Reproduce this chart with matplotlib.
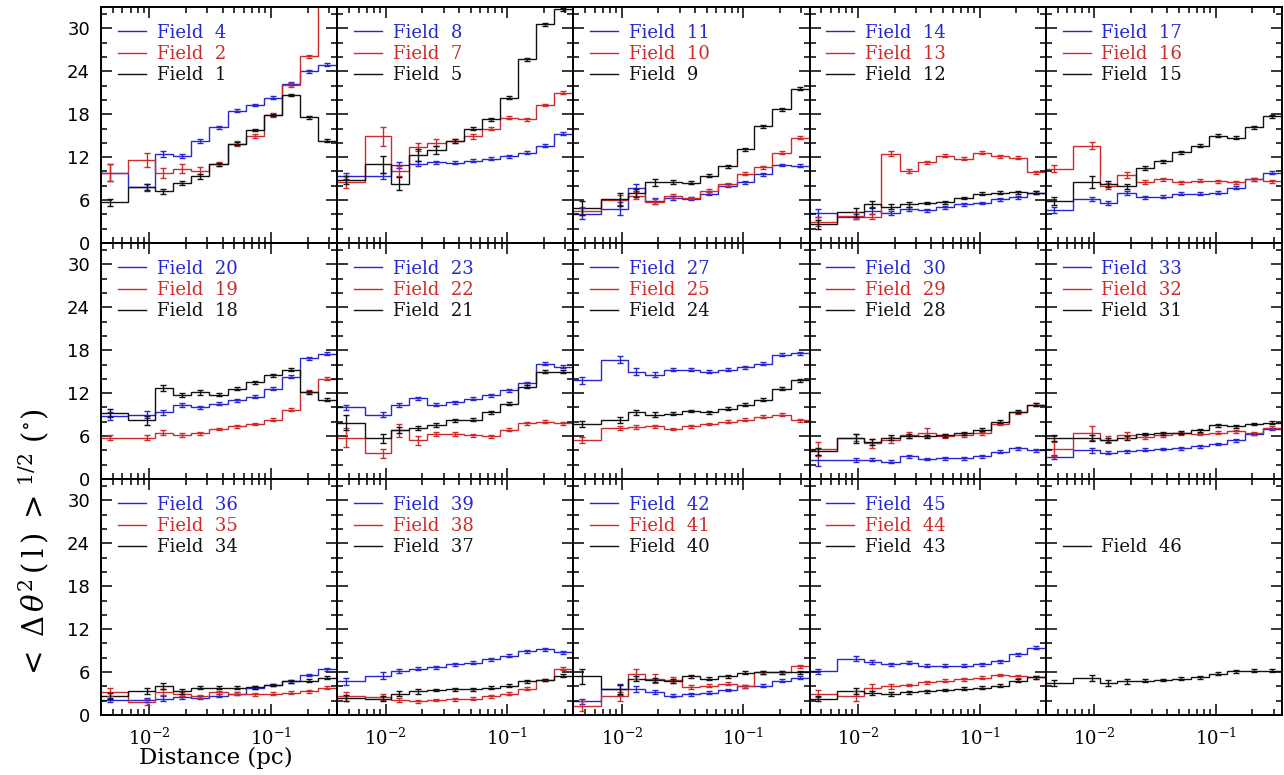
import matplotlib
matplotlib.use("Agg")
import matplotlib.pyplot as plt
from matplotlib.lines import Line2D
from matplotlib.ticker import LogLocator, MultipleLocator

plt.rcParams["font.family"] = ["DejaVu Serif"]
plt.rcParams["mathtext.fontset"] = "dejavuserif"

BLUE = "#2626d4"
RED = "#d02a2a"
BLACK = "#111111"

# bin centres (pc), common to every panel
dist = [0.0047, 0.0096, 0.0130, 0.0186, 0.0262, 0.037, 0.052, 0.074, 0.104, 0.146, 0.206, 0.29]

# field numbers per panel (blue, red, black)
blue_fields = [4, 8, 11, 14, 17, 20, 23, 27, 30, 33, 36, 39, 42, 45, None]
red_fields = [2, 7, 10, 13, 16, 19, 22, 25, 29, 32, 35, 38, 41, 44, None]
black_fields = [1, 5, 9, 12, 15, 18, 21, 24, 28, 31, 34, 37, 40, 43, 46]

blue_disp = [
    [9.8, 7.8, 12.4, 12.2, 14.3, 16.2, 18.5, 19.3, 20.3, 22.3, 24.0, 24.9],
    [9.4, 9.4, 10.9, 11.1, 11.3, 11.2, 11.5, 11.8, 12.1, 12.6, 13.6, 15.3],
    [4.1, 4.8, 7.7, 5.9, 6.3, 6.2, 6.9, 8.0, 8.5, 9.6, 10.9, 10.8],
    [4.2, 3.7, 4.5, 4.2, 4.8, 4.6, 5.0, 5.4, 5.6, 6.1, 6.4, 7.0],
    [4.6, 6.2, 5.6, 7.0, 6.4, 6.5, 6.9, 6.9, 7.0, 7.7, 8.9, 9.8],
    [8.8, 9.0, 9.3, 10.3, 10.0, 10.5, 11.0, 11.5, 12.6, 14.3, 16.9, 17.5],
    [10.0, 9.0, 10.3, 11.3, 10.4, 10.7, 11.2, 11.7, 12.4, 13.4, 16.1, 15.7],
    [13.8, 16.7, 15.0, 14.6, 15.3, 15.3, 15.0, 15.3, 15.6, 16.1, 17.4, 17.6],
    [2.6, 2.7, 2.7, 2.4, 3.2, 2.8, 2.9, 2.9, 3.2, 3.8, 4.3, 4.0],
    [3.1, 4.0, 3.7, 3.9, 4.1, 4.2, 4.3, 4.6, 4.9, 5.4, 6.3, 7.0],
    [2.1, 2.1, 2.3, 2.5, 2.4, 2.7, 3.0, 3.8, 4.2, 4.7, 5.6, 6.4],
    [4.7, 5.5, 6.2, 6.5, 6.7, 7.1, 7.3, 7.8, 8.3, 8.9, 9.2, 8.8],
    [1.9, 3.6, 3.6, 3.2, 2.7, 2.9, 3.1, 3.5, 4.0, 4.1, 4.8, 5.2],
    [6.1, 7.9, 7.4, 7.1, 7.3, 6.9, 6.9, 6.9, 7.1, 7.5, 8.5, 9.4],
    None,
]
blue_err = [
    [1.2, 0.5, 0.4, 0.3, 0.3, 0.2, 0.2, 0.2, 0.2, 0.2, 0.2, 0.2],
    [0.4, 0.4, 0.4, 0.3, 0.2, 0.2, 0.2, 0.2, 0.2, 0.2, 0.2, 0.2],
    [0.8, 0.9, 0.5, 0.4, 0.3, 0.2, 0.2, 0.2, 0.2, 0.2, 0.2, 0.2],
    [0.5, 0.4, 0.5, 0.3, 0.3, 0.2, 0.2, 0.2, 0.2, 0.2, 0.2, 0.2],
    [0.4, 0.3, 0.3, 0.3, 0.2, 0.2, 0.2, 0.2, 0.2, 0.2, 0.2, 0.2],
    [0.5, 0.5, 0.3, 0.3, 0.2, 0.2, 0.2, 0.2, 0.2, 0.2, 0.2, 0.2],
    [0.4, 0.3, 0.3, 0.2, 0.2, 0.2, 0.2, 0.2, 0.2, 0.2, 0.2, 0.2],
    [0.5, 0.5, 0.5, 0.3, 0.2, 0.2, 0.2, 0.2, 0.2, 0.2, 0.2, 0.2],
    [0.8, 0.3, 0.2, 0.2, 0.2, 0.2, 0.2, 0.2, 0.2, 0.2, 0.2, 0.2],
    [0.3, 0.3, 0.2, 0.2, 0.2, 0.2, 0.2, 0.2, 0.2, 0.2, 0.2, 0.2],
    [0.3, 0.3, 0.3, 0.2, 0.2, 0.2, 0.2, 0.2, 0.2, 0.2, 0.2, 0.2],
    [0.5, 0.5, 0.3, 0.2, 0.2, 0.2, 0.2, 0.2, 0.2, 0.2, 0.2, 0.2],
    [0.3, 0.8, 0.4, 0.3, 0.2, 0.2, 0.2, 0.2, 0.2, 0.2, 0.2, 0.2],
    [0.3, 0.4, 0.3, 0.2, 0.2, 0.2, 0.2, 0.2, 0.2, 0.2, 0.2, 0.2],
    None,
]

red_disp = [
    [9.8, 11.6, 9.8, 10.4, 10.1, 11.0, 13.9, 15.0, 17.9, 22.1, 26.1, 36.0],
    [8.5, 14.9, 10.1, 13.4, 14.0, 14.3, 14.9, 16.0, 17.5, 17.3, 19.3, 21.0],
    [4.5, 6.0, 6.6, 5.8, 6.6, 6.3, 7.3, 8.2, 9.7, 10.6, 12.6, 14.7],
    [3.0, 3.8, 3.7, 12.5, 10.1, 11.3, 12.2, 11.8, 12.6, 12.1, 11.9, 9.9],
    [10.4, 13.6, 8.0, 9.5, 8.5, 8.9, 8.5, 8.7, 8.6, 8.5, 8.9, 8.6],
    [5.8, 5.8, 6.5, 6.2, 6.4, 7.0, 7.4, 7.7, 8.3, 9.7, 12.2, 14.0],
    [5.8, 3.6, 6.8, 5.4, 6.3, 6.3, 6.1, 6.0, 6.9, 7.8, 8.0, 7.8],
    [5.5, 7.1, 7.3, 7.4, 7.0, 7.4, 7.7, 8.0, 8.3, 8.7, 9.0, 8.2],
    [4.2, 5.8, 5.0, 5.5, 6.2, 6.5, 6.0, 6.1, 6.4, 7.7, 9.3, 10.4],
    [4.2, 6.4, 5.5, 6.2, 5.9, 6.1, 6.4, 6.3, 6.5, 6.7, 6.4, 7.2],
    [3.2, 1.8, 3.2, 2.9, 2.6, 3.2, 3.0, 2.9, 3.0, 3.1, 3.3, 3.8],
    [2.6, 2.5, 2.1, 1.9, 2.1, 2.2, 2.3, 2.6, 3.0, 3.7, 4.9, 6.5],
    [1.2, 2.6, 5.8, 5.1, 4.9, 3.9, 4.1, 4.4, 4.0, 6.0, 6.0, 6.8],
    [3.0, 2.6, 3.8, 4.0, 4.2, 4.6, 4.8, 5.0, 5.2, 5.6, 5.4, 5.3],
    None,
]
red_err = [
    [1.2, 1.0, 0.7, 0.6, 0.5, 0.3, 0.3, 0.3, 0.3, 0.3, 0.2, 0.2],
    [0.8, 1.3, 0.7, 0.6, 0.5, 0.3, 0.3, 0.2, 0.2, 0.2, 0.2, 0.2],
    [0.6, 0.7, 0.5, 0.4, 0.3, 0.2, 0.2, 0.2, 0.2, 0.2, 0.2, 0.2],
    [0.6, 0.5, 0.4, 0.4, 0.3, 0.2, 0.2, 0.2, 0.2, 0.2, 0.2, 0.2],
    [0.5, 0.5, 0.4, 0.4, 0.3, 0.2, 0.2, 0.2, 0.2, 0.2, 0.2, 0.2],
    [0.4, 0.4, 0.3, 0.3, 0.2, 0.2, 0.2, 0.2, 0.2, 0.2, 0.2, 0.2],
    [1.3, 0.6, 0.9, 0.6, 0.3, 0.3, 0.2, 0.2, 0.2, 0.2, 0.2, 0.2],
    [0.4, 0.3, 0.3, 0.2, 0.2, 0.2, 0.2, 0.2, 0.2, 0.2, 0.2, 0.2],
    [1.0, 0.5, 0.6, 0.4, 0.4, 0.6, 0.3, 0.2, 0.2, 0.2, 0.2, 0.2],
    [1.0, 1.0, 0.5, 0.4, 0.3, 0.2, 0.2, 0.2, 0.2, 0.2, 0.2, 0.2],
    [0.6, 0.4, 0.4, 0.3, 0.2, 0.2, 0.2, 0.2, 0.2, 0.2, 0.2, 0.2],
    [0.6, 0.4, 0.3, 0.2, 0.2, 0.2, 0.2, 0.2, 0.2, 0.2, 0.2, 0.2],
    [0.7, 0.6, 0.7, 0.6, 0.4, 0.3, 0.2, 0.2, 0.2, 0.2, 0.2, 0.2],
    [0.5, 0.7, 0.5, 0.3, 0.2, 0.2, 0.2, 0.2, 0.2, 0.2, 0.2, 0.2],
    None,
]

black_disp = [
    [5.7, 7.8, 7.2, 8.4, 9.3, 11.0, 13.9, 15.8, 17.9, 20.7, 17.6, 14.3],
    [8.8, 11.0, 8.3, 12.3, 13.0, 14.3, 16.0, 17.3, 20.3, 25.7, 30.6, 32.7],
    [4.9, 6.1, 7.0, 8.5, 8.5, 8.4, 9.4, 10.7, 13.1, 16.3, 18.7, 21.6],
    [2.6, 4.3, 5.4, 5.1, 5.4, 5.6, 5.7, 6.3, 6.9, 7.0, 7.1, 7.0],
    [5.9, 8.5, 8.2, 7.9, 10.5, 11.4, 12.7, 13.6, 15.0, 14.7, 16.2, 17.7],
    [9.2, 8.2, 12.7, 11.7, 12.1, 11.8, 12.6, 13.5, 14.5, 15.3, 12.1, 11.1],
    [7.9, 5.7, 6.9, 7.1, 7.6, 8.2, 8.3, 9.3, 10.5, 12.9, 15.0, 15.0],
    [7.7, 8.2, 9.3, 9.0, 9.1, 9.5, 9.3, 9.8, 10.4, 11.1, 12.6, 13.8],
    [3.9, 5.7, 5.2, 5.8, 6.0, 6.0, 6.1, 6.4, 6.9, 8.0, 9.4, 10.4],
    [5.7, 5.7, 5.5, 5.7, 6.3, 6.4, 6.5, 6.8, 7.5, 7.4, 7.7, 7.9],
    [2.7, 3.4, 4.1, 3.3, 3.8, 3.8, 3.8, 3.9, 4.2, 4.7, 4.8, 5.2],
    [2.4, 2.3, 3.0, 3.3, 3.5, 3.6, 3.6, 3.8, 4.1, 4.7, 4.9, 5.5],
    [5.4, 3.6, 5.1, 4.9, 4.8, 5.4, 5.1, 5.4, 5.9, 6.0, 6.0, 6.0],
    [2.3, 3.4, 3.1, 2.9, 3.2, 3.3, 3.5, 3.7, 3.8, 4.1, 4.8, 5.3],
    [4.5, 5.2, 4.5, 4.7, 4.8, 4.9, 5.1, 5.3, 5.8, 6.1, 6.2, 6.2],
]
black_err = [
    [0.5, 0.4, 0.4, 0.3, 0.3, 0.2, 0.2, 0.2, 0.2, 0.2, 0.2, 0.2],
    [0.6, 1.2, 0.9, 0.8, 0.5, 0.3, 0.2, 0.2, 0.2, 0.2, 0.2, 0.2],
    [1.0, 0.9, 0.5, 0.5, 0.3, 0.2, 0.2, 0.2, 0.2, 0.2, 0.2, 0.2],
    [0.6, 0.6, 0.5, 0.4, 0.3, 0.2, 0.2, 0.2, 0.2, 0.2, 0.2, 0.2],
    [0.6, 0.8, 0.4, 0.3, 0.3, 0.2, 0.2, 0.2, 0.2, 0.2, 0.2, 0.2],
    [0.6, 0.6, 0.4, 0.3, 0.3, 0.2, 0.2, 0.2, 0.2, 0.2, 0.2, 0.2],
    [1.0, 0.6, 0.4, 0.3, 0.3, 0.2, 0.2, 0.2, 0.2, 0.2, 0.2, 0.2],
    [0.4, 0.4, 0.3, 0.3, 0.2, 0.2, 0.2, 0.2, 0.2, 0.2, 0.2, 0.2],
    [0.5, 0.6, 0.4, 0.3, 0.3, 0.2, 0.2, 0.2, 0.2, 0.2, 0.2, 0.2],
    [0.4, 0.4, 0.3, 0.3, 0.2, 0.2, 0.2, 0.2, 0.2, 0.2, 0.2, 0.2],
    [0.4, 0.4, 0.4, 0.3, 0.2, 0.2, 0.2, 0.2, 0.2, 0.2, 0.2, 0.2],
    [0.4, 0.4, 0.3, 0.3, 0.2, 0.2, 0.2, 0.2, 0.2, 0.2, 0.2, 0.2],
    [1.0, 0.6, 0.4, 0.3, 0.3, 0.2, 0.2, 0.2, 0.2, 0.2, 0.2, 0.2],
    [0.4, 0.4, 0.3, 0.3, 0.2, 0.2, 0.2, 0.2, 0.2, 0.2, 0.2, 0.2],
    [0.4, 0.4, 0.4, 0.3, 0.2, 0.2, 0.2, 0.2, 0.2, 0.2, 0.2, 0.2],
]

# bin edges: geometric midpoints, outer edges run past the axes
edges = [1e-3] + [(a * b) ** 0.5 for a, b in zip(dist[:-1], dist[1:])] + [1.0]

fig, axes = plt.subplots(3, 5, figsize=(12.84, 7.75), dpi=100, sharex=True, sharey=True)
fig.subplots_adjust(left=0.0787, right=0.9984, top=0.991, bottom=0.0774, wspace=0, hspace=0)


def draw(ax, vals, errs, color):
    ax.stairs(vals, edges, color=color, lw=1.0, baseline=None)
    ax.errorbar(dist, vals, yerr=errs, fmt="none", ecolor=color, elinewidth=1.0,
                capsize=2.5, capthick=1.0)


for k, ax in enumerate(axes.flat):
    handles, labels, colors = [], [], []
    for fields, disp, err, color in [(blue_fields, blue_disp, blue_err, BLUE),
                                     (red_fields, red_disp, red_err, RED),
                                     (black_fields, black_disp, black_err, BLACK)]:
        if fields[k] is None:
            handles.append(Line2D([], [], color="none"))
            labels.append(" ")
            colors.append("white")
            continue
        draw(ax, disp[k], err[k], color)
        handles.append(Line2D([], [], color=color, lw=1.0))
        labels.append(f"Field  {fields[k]}")
        colors.append(color)

    ax.legend(handles, labels, loc="upper left", bbox_to_anchor=(0.01, 0.99),
              frameon=False, fontsize=13, handlelength=1.55, handletextpad=0.6,
              labelspacing=0.17, borderpad=0.3, labelcolor=colors)

    ax.set_xscale("log")
    ax.set_xlim(0.004, 0.35)
    ax.set_ylim(0, 33)
    ax.yaxis.set_major_locator(MultipleLocator(6))
    ax.yaxis.set_minor_locator(MultipleLocator(2))
    ax.xaxis.set_major_locator(LogLocator(base=10))
    ax.xaxis.set_minor_locator(LogLocator(base=10, subs=range(2, 10)))
    ax.tick_params(which="both", direction="in", top=True, right=True, width=1.1, labelsize=13)
    ax.tick_params(which="major", length=8)
    ax.tick_params(which="minor", length=4)
    ax.tick_params(axis="y", pad=8)
    ax.tick_params(axis="x", pad=9)
    for lab in ax.get_yticklabels():
        lab.set_fontfamily("DejaVu Sans")
    for sp in ax.spines.values():
        sp.set_linewidth(1.4)

fig.text(0.168, 0.022, "Distance (pc)", ha="center", va="center", fontsize=16.5)
fig.text(0.026, 0.297,
         r"$<\;\Delta\,\theta^{2}\,(\,\mathrm{l}\,)\;>^{\,1/2}$ ($^{\circ}$)",
         ha="center", va="center", rotation=90, fontsize=21)

fig.savefig("out.png", dpi=100)
